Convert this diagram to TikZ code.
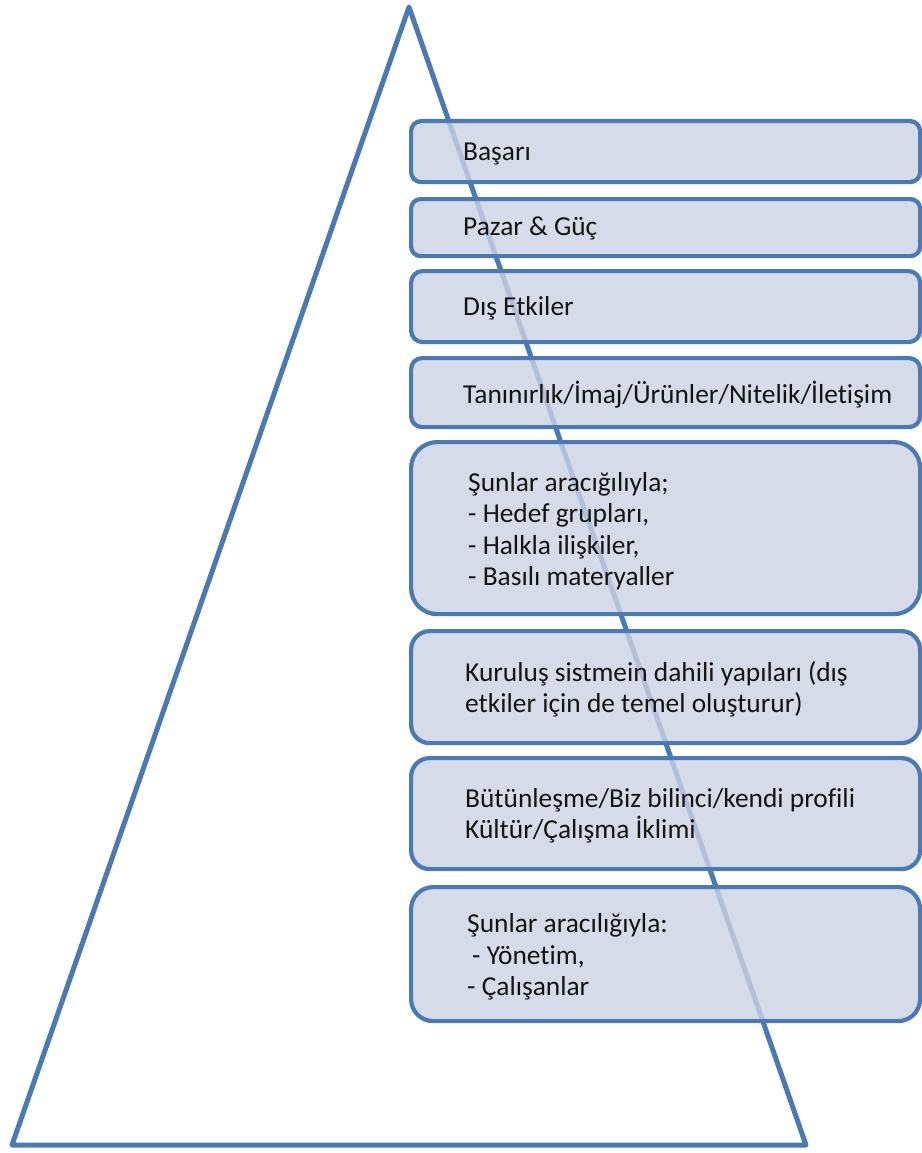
\documentclass[tikz,border=0pt]{standalone}
\usepackage{fontspec}
\setmainfont[Ligatures=NoCommon]{Carlito}
\definecolor{edgeblue}{RGB}{74,122,181}
\definecolor{boxfill}{RGB}{204,211,228}
\definecolor{inktext}{RGB}{20,20,20}
\tikzset{
  pyramid/.style={draw=edgeblue, line width=5pt, line join=round},
  layerbox/.style={draw=edgeblue, line width=4.2pt, fill=boxfill, fill opacity=0.8,
    draw opacity=1, rectangle, inner sep=0pt, anchor=north west,
    minimum width=509pt},
  layertext/.style={anchor=west, align=left, inner sep=0pt, text=inktext,
    font=\fontsize{27.4}{31.5}\selectfont, text opacity=1}
}
\begin{document}
\begin{tikzpicture}[x=1pt,y=-1pt]
\useasboundingbox (0,0) rectangle (921,1153);
\fill[white] (0,0) rectangle (921,1153);

% the pyramid outline
\coordinate (apex) at (409,7);
\coordinate (bl) at (12,1145);
\coordinate (br) at (806,1145);
\draw[pyramid] (apex) -- (br) -- (bl) -- cycle;

% layer boxes, top to bottom
\node[layerbox, minimum height=61pt, rounded corners=10pt]  (b1) at (409,119) {};
\node[layerbox, minimum height=57pt, rounded corners=9.5pt] (b2) at (409,197) {};
\node[layerbox, minimum height=71pt, rounded corners=11.5pt] (b3) at (409,269) {};
\node[layerbox, minimum height=69pt, rounded corners=11pt] (b4) at (409,356) {};
\node[layerbox, minimum height=172pt, rounded corners=26pt] (b5) at (409,440) {};
\node[layerbox, minimum height=112pt, rounded corners=18.5pt] (b6) at (409,629) {};
\node[layerbox, minimum height=111pt, rounded corners=18.5pt] (b7) at (409,756) {};
\node[layerbox, minimum height=134pt, rounded corners=22pt] (b8) at (409,885) {};

% labels
\node[layertext] (t1) at ([xshift=54pt,yshift=-2pt]b1.west) {Başarı};
\node[layertext] (t2) at ([xshift=54pt,yshift=-1pt]b2.west) {Pazar \& Güç};
\node[layertext] (t3) at ([xshift=54pt,yshift=-2pt]b3.west) {Dış Etkiler};
\node[layertext] (t4) at ([xshift=54pt,yshift=-2pt]b4.west) {Tanınırlık/İmaj/Ürünler/Nitelik/İletişim};
\node[layertext] (t5) at ([xshift=59pt,yshift=-3pt]b5.west) {Şunlar aracığılıyla;\\- Hedef grupları,\\- Halkla ilişkiler,\\- Basılı materyaller};
\node[layertext] (t6) at ([xshift=56pt,yshift=-2pt]b6.west) {Kuruluş sistmein dahili yapıları (dış\\etkiler için de temel oluşturur)};
\node[layertext] (t7) at ([xshift=56pt,yshift=-2pt]b7.west) {Bütünleşme/Biz bilinci/kendi profili\\Kültür/Çalışma İklimi};
\node[layertext] (t8) at ([xshift=58pt,yshift=-3pt]b8.west) {Şunlar aracılığıyla:\\\hspace*{5pt}- Yönetim,\\- Çalışanlar};
\end{tikzpicture}
\end{document}
